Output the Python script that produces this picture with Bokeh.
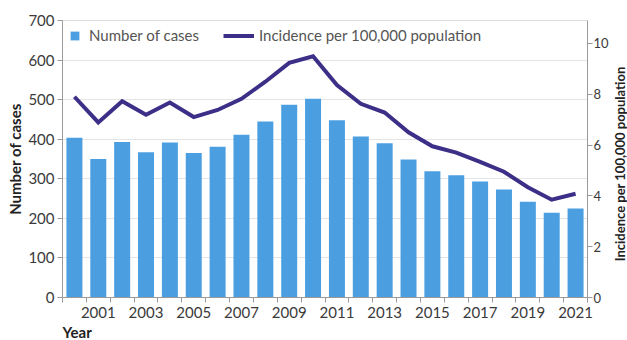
import math
from bokeh.plotting import figure
from bokeh.layouts import row
from bokeh.models import Range1d, LinearAxis, FixedTicker, Legend, LegendItem, Title
from bokeh.core.properties import value
from bokeh.embed import file_html
from bokeh.resources import INLINE

# Annual data, 2000-2021
years = list(range(2000, 2022))
cases = [404, 350, 393, 367, 392, 365, 381, 411, 445, 487, 502,
         448, 407, 390, 349, 319, 309, 293, 273, 242, 214, 225]
incidence = [7.90, 6.89, 7.72, 7.19, 7.67, 7.10, 7.38, 7.82, 8.49, 9.23, 9.49,
             8.36, 7.62, 7.28, 6.50, 5.95, 5.70, 5.34, 4.95, 4.34, 3.85, 4.08]
case_ticks = [0, 100, 200, 300, 400, 500, 600, 700]
incidence_ticks = [0, 2, 4, 6, 8, 10]
year_labels = [y for y in years if y % 2 == 1]
right_title = "Incidence per 100,000 population"

FONT = "Lato"
BAR = "#4b9fe1"
LINE = "#3c2f87"
AXIS = "#9a9a9a"

p = figure(width=611, height=340, x_range=Range1d(1999.5, 2021.5), y_range=Range1d(0, 700),
           output_backend="svg", toolbar_location=None,
           min_border_left=62, min_border_right=20, min_border_top=20, min_border_bottom=41)
p.extra_y_ranges = {"inc": Range1d(0, 10.9)}
p.outline_line_color = "#dddddd"
p.background_fill_color = "white"

bars = p.vbar(x=years, top=cases, width=0.67, fill_color=BAR, line_color=None)
line = p.line(x=years, y=incidence, y_range_name="inc", line_color=LINE,
              line_width=4, line_join="miter")

# left axis: number of cases
ly = p.yaxis[0]
ly.ticker = FixedTicker(ticks=case_ticks)
ly.axis_label = "Number of cases"

# right axis: incidence ticks
ry = LinearAxis(y_range_name="inc", ticker=FixedTicker(ticks=incidence_ticks))
p.add_layout(ry, "right")

# x axis: ticks between bars, labels on odd years
xa = p.xaxis[0]
xa.ticker = FixedTicker(ticks=year_labels, minor_ticks=[y - 0.5 for y in years] + [2021.5])
xa.major_tick_line_color = None
xa.minor_tick_in = 0
xa.minor_tick_out = 5
xa.minor_tick_line_color = AXIS
xa.major_label_standoff = 3

for ax in (ly, ry, xa):
    ax.axis_line_color = AXIS
    ax.major_label_text_font = FONT
    ax.major_label_text_font_size = "15px"
    ax.major_label_text_color = "#3a3a3a"
    ax.axis_label_text_font = FONT
    ax.axis_label_text_font_size = "15px"
    ax.axis_label_text_font_style = "bold"
    ax.axis_label_text_color = "#222222"
for ax in (ly, ry):
    ax.major_tick_in = 0
    ax.major_tick_out = 5
    ax.major_tick_line_color = AXIS
    ax.minor_tick_line_color = None
    ax.major_label_standoff = 3
ly.axis_label_standoff = 1
ry.major_label_text_font_size = "13px"
ry.major_label_standoff = 1

p.xgrid.visible = False
p.ygrid.ticker = FixedTicker(ticks=case_ticks)
p.ygrid.grid_line_color = "#e4e4e4"

p.add_layout(Title(text="Year", align="left", text_font=FONT, text_font_size="15px",
                   text_font_style="bold", text_color="#222222", standoff=0), "below")

common = dict(orientation="horizontal", padding=0, margin=0, border_line_color=None,
              background_fill_alpha=0, label_text_font=FONT, label_text_font_size="15px",
              label_text_color="#555555", label_height=18, glyph_height=11)
leg1 = Legend(items=[LegendItem(label="Number of cases", renderers=[bars])],
              location=(7, 253), glyph_width=11, label_standoff=9, **common)
leg2 = Legend(items=[LegendItem(label=right_title, renderers=[line])],
              location=(161, 253), glyph_width=31, label_standoff=5, **common)
p.add_layout(leg1)
p.add_layout(leg2)

# narrow strip holding the right-hand axis title, reading upwards
t = figure(width=16, height=340, x_range=Range1d(0, 16), y_range=Range1d(340, 0),
           output_backend="svg", toolbar_location=None, x_axis_type=None, y_axis_type=None,
           min_border_left=0, min_border_right=0, min_border_top=0, min_border_bottom=0)
t.outline_line_color = None
t.grid.visible = False
t.text(x=[8], y=[176], text=[right_title], angle=math.pi / 2,
       text_align="center", text_baseline="middle", text_font=value(FONT),
       text_font_size="13px", text_font_style="bold", text_color="#222222")

layout = row(p, t, spacing=0)
open("out.html", "w").write(file_html(layout, INLINE))
